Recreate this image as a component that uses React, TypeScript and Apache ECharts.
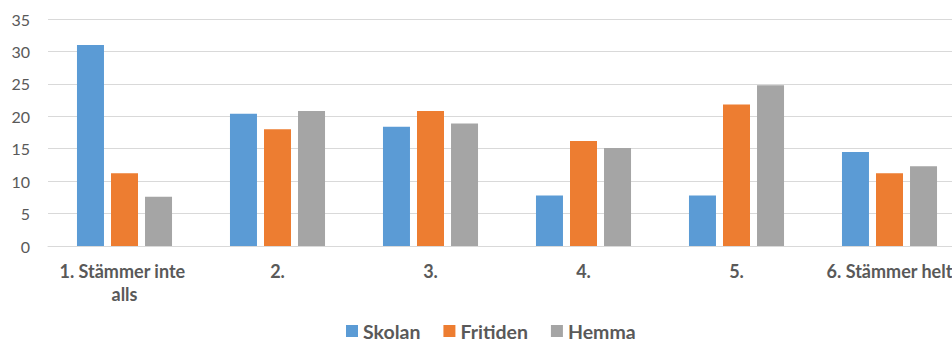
import React, { useEffect, useRef } from "react";
import * as echarts from "echarts";

const categories = ["1. Stämmer inte alls", "2.", "3.", "4.", "5.", "6. Stämmer helt"];
const skolan = [31.0, 20.4, 18.4, 7.8, 7.8, 14.5];
const fritiden = [11.2, 18.0, 20.8, 16.2, 21.8, 11.2];
const hemma = [7.6, 20.8, 18.9, 15.1, 24.8, 12.3];

const FONT = "Lato, 'Open Sans', sans-serif";

export default function App() {
  const ref = useRef<HTMLDivElement>(null);
  useEffect(() => {
    if (!ref.current) return;
    const chart = echarts.init(ref.current, undefined, { renderer: "svg" });
    const barStyle = (color: string) => ({
      type: "bar" as const,
      barWidth: 27,
      barGap: "26%",
      itemStyle: { color },
    });
    chart.setOption({
      animation: false,
      textStyle: { fontFamily: FONT },
      grid: { left: 48, top: 19, bottom: 97, right: -14, outerBoundsMode: "none", containLabel: false },
      legend: {
        left: 346,
        top: 320,
        padding: 0,
        itemWidth: 12,
        itemHeight: 12,
        itemGap: 23,
        icon: "rect",
        textStyle: { fontFamily: FONT, fontSize: 19.5, lineHeight: 22, fontWeight: "bold", color: "#595959", padding: [0, 0, 0, 0] },
        data: ["Skolan", "Fritiden", "Hemma"],
      },
      xAxis: {
        type: "category",
        data: categories,
        axisLine: { lineStyle: { color: "#D9D9D9" } },
        axisTick: { show: false },
        axisLabel: {
          interval: 0,
          margin: 13,
          fontFamily: FONT,
          fontSize: 18,
          fontWeight: "bold",
          color: "#595959",
          width: 142,
          overflow: "break",
          lineHeight: 23,
        },
      },
      yAxis: {
        type: "value",
        min: 0,
        max: 35,
        interval: 5,
        axisLine: { show: false },
        axisTick: { show: false },
        splitLine: { lineStyle: { color: "#D9D9D9" } },
        axisLabel: { fontFamily: FONT, fontSize: 16, color: "#595959", margin: 18 },
      },
      series: [
        { name: "Skolan", data: skolan, ...barStyle("#5B9BD5") },
        { name: "Fritiden", data: fritiden, ...barStyle("#ED7D31") },
        { name: "Hemma", data: hemma, ...barStyle("#A5A5A5") },
      ],
    });
    return () => chart.dispose();
  }, []);
  return <div ref={ref} style={{ width: 952, height: 343, position: "absolute", left: 0, top: 0 }} />;
}
